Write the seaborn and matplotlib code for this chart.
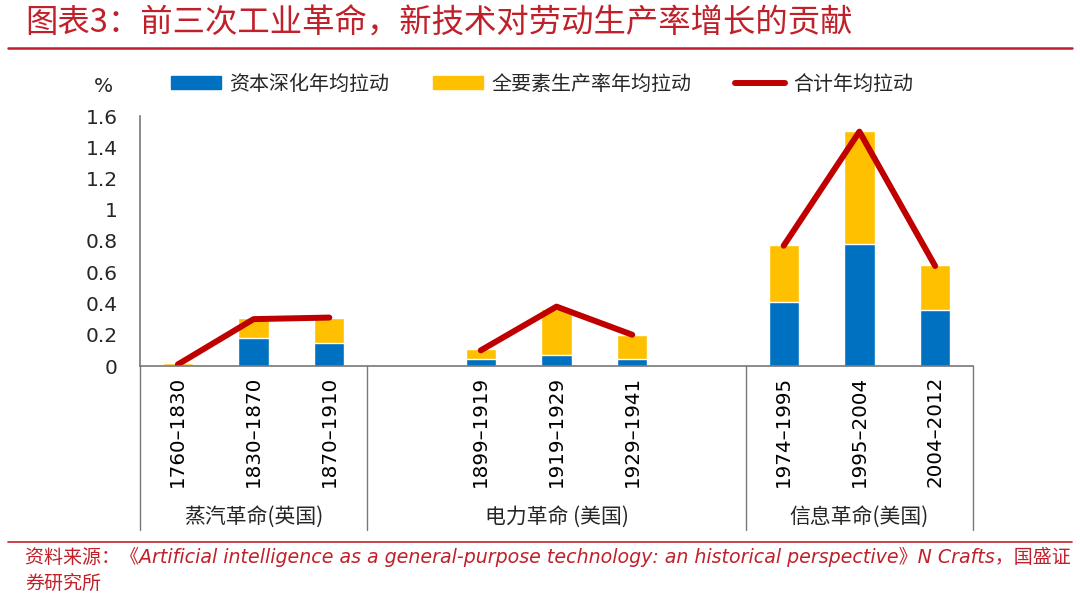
import numpy as np
import pandas as pd
import seaborn as sns
import matplotlib.pyplot as plt
from matplotlib.patches import Patch
from matplotlib.lines import Line2D

sns.set_theme(style='white')
plt.rcParams['font.family'] = ['DejaVu Sans', 'Noto Sans CJK SC']
cjk = ['Noto Sans CJK SC', 'DejaVu Sans']

#---------------------------- data ----------------------------#
periods = ['1760–1830', '1830–1870', '1870–1910',
           '1899–1919', '1919–1929', '1929–1941',
           '1974–1995', '1995–2004', '2004–2012']
revolution = ['蒸汽革命(英国)'] * 3 + ['电力革命 (美国)'] * 3 + ['信息革命(美国)'] * 3
capital = [0.005, 0.18, 0.145, 0.045, 0.068, 0.045, 0.41, 0.78, 0.36]
tfp = [0.012, 0.125, 0.165, 0.062, 0.30, 0.155, 0.365, 0.725, 0.285]
total = [0.01, 0.30, 0.31, 0.10, 0.38, 0.20, 0.77, 1.50, 0.64]
# slot order on the axis, two empty slots pad the middle group
order = periods[:3] + ['gap1'] + periods[3:6] + ['gap2'] + periods[6:]

blue = '#0070C0'
yellow = '#FFC000'
red = '#C00000'
title_red = '#C0202A'

df = pd.DataFrame({'period': periods, 'group': revolution,
                   'capital': capital, 'tfp': tfp, 'total': total})
df['stack'] = df['capital'] + df['tfp']
df['pos'] = [order.index(p) for p in periods]

#----------------------------------- figure ---------------------------------------#
fig = plt.figure(figsize=(10.8, 6.04), dpi=100)
ax = fig.add_axes([140 / 1080, 1 - 366 / 604, 833 / 1080, 250 / 604])

# stacked bars: full height in yellow, capital part in blue on top of it
sns.barplot(data=df, x='period', y='stack', order=order, color=yellow,
            width=0.4, saturation=1, ax=ax)
sns.barplot(data=df, x='period', y='capital', order=order, color=blue,
            width=0.4, saturation=1, ax=ax)

# total line, one segment per revolution
sns.lineplot(data=df, x='pos', y='total', units='group', estimator=None,
             color=red, linewidth=4.3, solid_capstyle='round', ax=ax)

ax.set_xlim(-0.5, 10.5)
ax.set_ylim(0, 1.6)
ax.set_yticks(np.arange(0, 1.61, 0.2))
ax.set_yticklabels(['%g' % round(v, 1) for v in np.arange(0, 1.61, 0.2)], fontsize=14.5)
ax.set_xticks(range(len(order)))
ax.set_xticklabels([p if not p.startswith('gap') else '' for p in order],
                   rotation=90, fontsize=14.3, va='top')
ax.tick_params(axis='x', length=0, pad=7, colors='black')
ax.tick_params(axis='y', length=5, width=1, color='#555555', direction='out', pad=11)
ax.set_xlabel('')
ax.set_ylabel('')

for s in ['top', 'right']:
    ax.spines[s].set_visible(False)
for s in ['left', 'bottom']:
    ax.spines[s].set_color('#777777')
    ax.spines[s].set_linewidth(1.2)

# category table lines below the axis
trans = ax.get_xaxis_transform()
for xv in [-0.5, 2.5, 7.5, 10.5]:
    ax.plot([xv, xv], [0, -0.656], transform=trans, color='#777777',
            linewidth=1.0, clip_on=False)

# revolution labels
for xv, name in zip([1, 5, 9], ['蒸汽革命(英国)', '电力革命 (美国)', '信息革命(美国)']):
    ax.text(xv, -0.605, name, transform=trans, ha='center', va='center',
            fontsize=15, family=cjk)

# legend
handles = [Patch(color=blue), Patch(color=yellow),
           Line2D([0], [0], color=red, linewidth=4.3, solid_capstyle='round')]
labels = ['资本深化年均拉动', '全要素生产率年均拉动', '合计年均拉动']
leg = fig.legend(handles, labels, loc='center left', bbox_to_anchor=(0.142, 1 - 84 / 604),
                 ncol=3, frameon=False, handlelength=2.5, handleheight=0.65,
                 columnspacing=2.2, handletextpad=0.4,
                 prop={'family': cjk, 'size': 14.4})

fig.text(103 / 1080, 1 - 86 / 604, '%', fontsize=14.5, ha='center', va='center')

# title and footer
fig.text(25 / 1080, 1 - 24 / 604, '图表3：前三次工业革命，新技术对劳动生产率增长的贡献',
         fontsize=23.3, color=title_red, style='italic', va='center', family=cjk)
fig.add_artist(Line2D([8 / 1080, 1072 / 1080], [1 - 48 / 604, 1 - 48 / 604],
                      color=title_red, linewidth=1.8))
fig.add_artist(Line2D([8 / 1080, 1072 / 1080], [1 - 542 / 604, 1 - 542 / 604],
                      color=title_red, linewidth=1.2))
fig.text(25 / 1080, 1 - 557 / 604,
         '资料来源：《Artificial intelligence as a general-purpose technology: '
         'an historical perspective》N Crafts，国盛证',
         fontsize=13.7, color=title_red, style='italic', va='center', family=cjk[::-1])
fig.text(25 / 1080, 1 - 583 / 604, '券研究所', fontsize=13.7, color=title_red,
         style='italic', va='center', family=cjk)

fig.savefig('out.png', dpi=100)
